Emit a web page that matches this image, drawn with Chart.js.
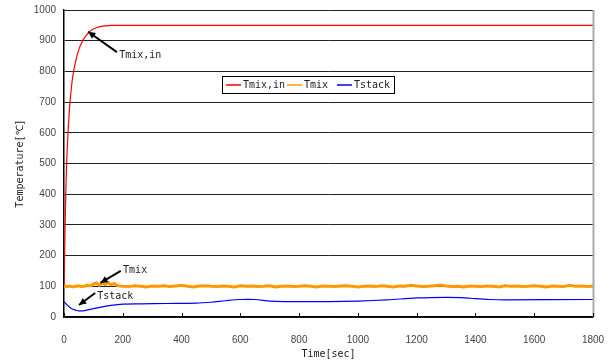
<!DOCTYPE html>
<html>
<head>
<meta charset="utf-8">
<script src="https://cdn.jsdelivr.net/npm/chart.js@4/dist/chart.umd.min.js"></script>
<style>
  html, body { margin: 0; padding: 0; background: #fff; }
  #wrap { width: 614px; height: 362px; }
</style>
</head>
<body>
<div id="wrap"><canvas id="myChart" width="614" height="362"></canvas></div>
<script>
// data
var seriesNames = ['Tmix,in', 'Tmix', 'Tstack'];

var tmixInTime = [0, 2, 4, 6, 8, 10, 15, 20, 25, 30, 40, 50, 60, 70, 80, 90, 100, 120, 140, 160, 200, 600, 1000, 1400, 1800];
var tmixInTemp = [100, 210, 310, 400, 470, 525, 625, 695, 745, 785, 835, 870, 893, 910, 922, 932, 938, 945, 948, 950, 950, 950, 950, 950, 950];

var tmixTime = [0, 10, 20, 30, 40, 50, 60, 70, 80, 90, 100, 110, 120, 130, 140, 150, 160, 170, 180, 190, 200,
    220, 240, 260, 280, 300, 320, 340, 360, 380, 400,
    420, 440, 460, 480, 500, 520, 540, 560, 580, 600,
    620, 640, 660, 680, 700, 720, 740, 760, 780, 800,
    820, 840, 860, 880, 900, 920, 940, 960, 980, 1000,
    1020, 1040, 1060, 1080, 1100, 1120, 1140, 1160, 1180, 1200,
    1220, 1240, 1260, 1280, 1300, 1320, 1340, 1360, 1380, 1400,
    1420, 1440, 1460, 1480, 1500, 1520, 1540, 1560, 1580, 1600,
    1620, 1640, 1660, 1680, 1700, 1720, 1740, 1760, 1780, 1800];
var tmixTemp = [100, 99, 101, 98, 100, 102, 99, 101, 103, 101, 107, 111, 104, 110, 106, 112, 105, 109, 103, 101, 100,
    99, 102, 100, 98, 101, 100, 102, 99, 101, 103,
    100, 98, 101, 102, 100, 99, 101, 100, 98, 102,
    100, 101, 99, 100, 102, 98, 100, 101, 99, 100,
    102, 100, 98, 101, 100, 99, 101, 102, 100, 98,
    100, 101, 99, 102, 100, 98, 101, 100, 103, 101,
    99, 100, 102, 104, 101, 99, 100, 98, 101, 100,
    99, 101, 100, 98, 102, 100, 101, 99, 100, 102,
    100, 98, 101, 100, 99, 103, 100, 101, 99, 100];

var tstackTime = [0, 10, 20, 30, 40, 50, 60, 70, 80, 100, 130, 160, 200, 260, 350, 450, 500, 550, 600, 650, 700, 750, 800, 900, 1000, 1100, 1200, 1300, 1350, 1400, 1450, 1500, 1800];
var tstackTemp = [50, 40, 31, 25, 22, 20, 20, 21, 23, 27, 33, 38, 42, 43, 44, 45, 48, 53, 57, 57, 52, 50, 50, 50, 52, 56, 62, 64, 63, 60, 57, 56, 57];

var xTicks = [0, 200, 400, 600, 800, 1000, 1200, 1400, 1600, 1800];
var yTicks = [0, 100, 200, 300, 400, 500, 600, 700, 800, 900, 1000];

var colors = ['#ff0000', '#ff9900', '#0000ff'];

function toPoints(t, v) {
    var pts = [];
    for (var i = 0; i < t.length; i++) pts.push({ x: t[i], y: v[i] });
    return pts;
}

var monoFont = '"DejaVu Sans Mono", monospace';
var tickFont = { family: '"Liberation Sans", Arial, sans-serif', size: 10 };

// arrows + labels, given in data units
var notes = [
    { text: 'Tmix,in', tx: 188, ty: 853, x1: 180, y1: 863, x2: 82, y2: 929 },
    { text: 'Tmix', tx: 201, ty: 153, x1: 193, y1: 150, x2: 124, y2: 111 },
    { text: 'Tstack', tx: 113, ty: 68, x1: 106, y1: 78, x2: 51, y2: 39 }
];

var extras = {
    id: 'extras',
    afterDraw: function (chart) {
        var ctx = chart.ctx;
        var xs = chart.scales.x, ys = chart.scales.y;
        var area = chart.chartArea;
        ctx.save();
        // right border
        ctx.strokeStyle = '#aaa';
        ctx.lineWidth = 2;
        ctx.beginPath();
        ctx.moveTo(Math.round(area.right) + 0.5, area.top);
        ctx.lineTo(Math.round(area.right) + 0.5, area.bottom);
        ctx.stroke();
        // inside ticks on x axis
        ctx.strokeStyle = '#000';
        ctx.lineWidth = 1;
        xTicks.forEach(function (t) {
            var px = Math.round(xs.getPixelForValue(t)) + 0.5;
            ctx.beginPath();
            ctx.moveTo(px, area.bottom);
            ctx.lineTo(px, area.bottom - 4);
            ctx.stroke();
        });
        // notes
        ctx.font = '10px ' + monoFont;
        ctx.textBaseline = 'middle';
        notes.forEach(function (n) {
            var ax = xs.getPixelForValue(n.x1), ay = ys.getPixelForValue(n.y1);
            var bx = xs.getPixelForValue(n.x2), by = ys.getPixelForValue(n.y2);
            ctx.strokeStyle = '#000';
            ctx.lineWidth = 2;
            ctx.beginPath();
            ctx.moveTo(ax, ay);
            ctx.lineTo(bx, by);
            ctx.stroke();
            var ang = Math.atan2(by - ay, bx - ax);
            ctx.beginPath();
            ctx.moveTo(bx, by);
            ctx.lineTo(bx - 8 * Math.cos(ang - 0.45), by - 8 * Math.sin(ang - 0.45));
            ctx.lineTo(bx - 8 * Math.cos(ang + 0.45), by - 8 * Math.sin(ang + 0.45));
            ctx.closePath();
            ctx.fillStyle = '#000';
            ctx.fill();
            ctx.fillStyle = '#222';
            ctx.fillText(n.text, xs.getPixelForValue(n.tx), ys.getPixelForValue(n.ty));
        });
        // legend box
        var lx = 222, ly = 76, lw = 172, lh = 17;
        ctx.fillStyle = '#fff';
        ctx.fillRect(lx, ly, lw, lh);
        ctx.strokeStyle = '#000';
        ctx.lineWidth = 1;
        ctx.strokeRect(lx + 0.5, ly + 0.5, lw, lh);
        var items = [
            { x: 226, name: seriesNames[0], c: colors[0] },
            { x: 287, name: seriesNames[1], c: colors[1] },
            { x: 337, name: seriesNames[2], c: colors[2] }
        ];
        items.forEach(function (it) {
            ctx.strokeStyle = it.c;
            ctx.lineWidth = 1.5;
            ctx.beginPath();
            ctx.moveTo(it.x, ly + 9);
            ctx.lineTo(it.x + 15, ly + 9);
            ctx.stroke();
            ctx.fillStyle = '#222';
            ctx.fillText(it.name, it.x + 17, ly + 9.5);
        });
        ctx.restore();
    }
};

new Chart(document.getElementById('myChart'), {
    type: 'line',
    data: {
        datasets: [
            { label: seriesNames[1], data: toPoints(tmixTime, tmixTemp), borderColor: colors[1], borderWidth: 3, pointRadius: 0, tension: 0 },
            { label: seriesNames[2], data: toPoints(tstackTime, tstackTemp), borderColor: colors[2], borderWidth: 1.2, pointRadius: 0, tension: 0.3 },
            { label: seriesNames[0], data: toPoints(tmixInTime, tmixInTemp), borderColor: colors[0], borderWidth: 1.2, pointRadius: 0, tension: 0.2 }
        ]
    },
    options: {
        responsive: false,
        animation: false,
        layout: { padding: { top: 10, right: 21, left: 0, bottom: 0 } },
        plugins: { legend: { display: false }, tooltip: { enabled: false } },
        scales: {
            x: {
                type: 'linear',
                min: 0, max: 1800,
                afterBuildTicks: function (s) { s.ticks = xTicks.map(function (v) { return { value: v }; }); },
                afterFit: function (s) { s.height = 45; s.paddingLeft = 0; s.paddingRight = 0; },
                grid: { display: false },
                border: { display: true, color: '#000', width: 1.5 },
                ticks: { font: tickFont, color: '#444', padding: 9, maxRotation: 0, callback: function (v) { return String(v); } },
                title: { display: true, text: 'Time[sec]', font: { family: monoFont, size: 10 }, color: '#222', padding: { top: 0, bottom: 2 } }
            },
            y: {
                min: 0, max: 1000,
                afterBuildTicks: function (s) { s.ticks = yTicks.map(function (v) { return { value: v }; }); },
                afterFit: function (s) { s.width = 64; s.paddingTop = 0; s.paddingBottom = 0; },
                grid: { color: '#222', lineWidth: 1, drawTicks: false },
                border: { display: true, color: '#000', width: 1.5 },
                ticks: { font: tickFont, color: '#444', padding: 8, callback: function (v) { return String(v); } },
                title: { display: true, text: 'Temperature[℃]', font: { family: monoFont, size: 10 }, color: '#222', padding: { top: 14, bottom: 0 } }
            }
        }
    },
    plugins: [extras]
});
</script>
</body>
</html>
